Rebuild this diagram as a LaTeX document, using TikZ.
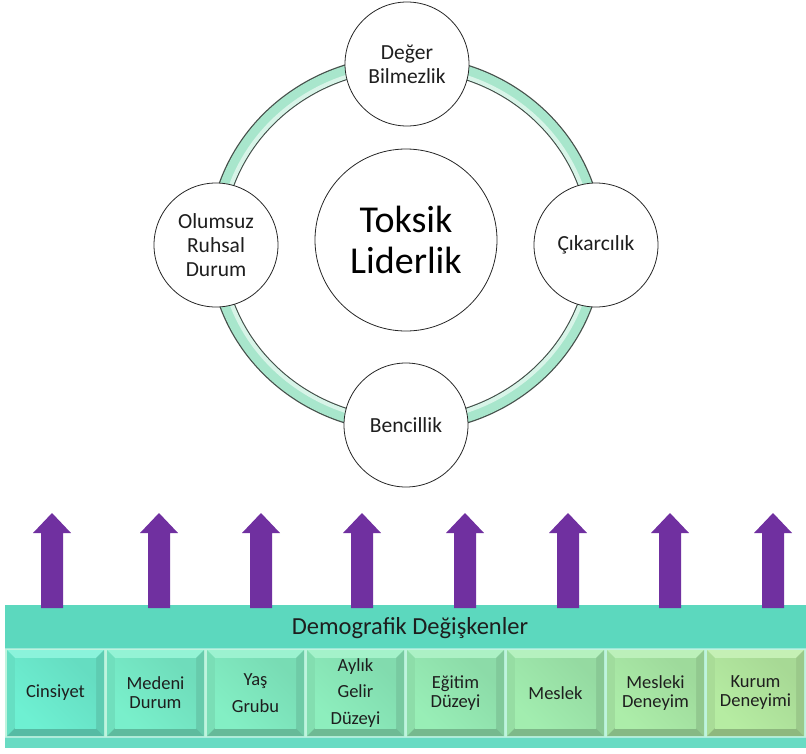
\documentclass[tikz,border=0pt]{standalone}
\usepackage{fontspec}
\setmainfont{Carlito}
\usetikzlibrary{calc}

\definecolor{ringfill}{RGB}{168,230,204}
\definecolor{ringedge}{RGB}{70,80,75}
\definecolor{liftpurple}{RGB}{112,48,160}
\definecolor{bandteal}{RGB}{92,216,190}
\definecolor{bandpale}{RGB}{190,244,222}
\definecolor{txtdark}{RGB}{30,30,30}
\definecolor{cstart}{RGB}{110,240,210}
\definecolor{cend}{RGB}{182,236,162}

\tikzset{
  bubble/.style={circle, draw=black!85, line width=0.8pt, fill=white,
    minimum size=124pt, inner sep=0pt, align=center, text=txtdark,
    font=\fontsize{21.5}{24}\selectfont},
  hub/.style={bubble, minimum size=182pt, font=\fontsize{38}{41}\selectfont, text=black},
  liftarrow/.style={fill=liftpurple},
  boxlabel/.style={align=center, text=txtdark, font=\fontsize{18.5}{19}\selectfont},
  widelabel/.style={boxlabel, font=\fontsize{18.5}{26.5}\selectfont},
  bandlabel/.style={text=txtdark, font=\fontsize{24.5}{27}\selectfont}
}

\begin{document}
\begin{tikzpicture}[x=1pt,y=-1pt]
\useasboundingbox (0,0) rectangle (806,753);

% ---- ring joining the four factors ----
\draw[line width=15.5pt, ringedge] (406,244) ellipse [x radius=190, y radius=181];
\draw[line width=13pt, ringfill] (406,244) ellipse [x radius=190, y radius=181];
\draw[line width=4pt, ringfill!45!white] (406,244) ellipse [x radius=185.5, y radius=176.5];

% ---- factor bubbles ----
\node[hub] (core) at (406,240) {Toksik\\Liderlik};
\node[bubble] (deger) at (407,64) {Değer\\Bilmezlik};
\node[bubble] (cikar) at (596,245) {Çıkarcılık};
\node[bubble] (bencil) at (406,425) {Bencillik};
\node[bubble] (ruhsal) at (216,245) {Olumsuz\\Ruhsal\\Durum};

% ---- demographic band ----
\fill[bandpale] (5,646) rectangle (806,740);
\fill[bandteal] (5,605) rectangle (806,648);
\draw[bandteal!60!white, line width=1pt] (5,648) -- (806,648);
\fill[bandteal!92!white] (5,737) rectangle (806,748);
\draw[bandteal!50!white, line width=1pt] (5,737) -- (806,737);
\node[bandlabel] (bandtitle) at (410,628) {Demografik Değişkenler};

% ---- bevelled variable boxes ----
\foreach \i/\lbl/\sty in {
    0/Cinsiyet/boxlabel,
    1/Medeni\\Durum/boxlabel,
    2/Yaş\\Grubu/widelabel,
    3/Aylık\\Gelir\\Düzeyi/widelabel,
    4/Eğitim\\Düzeyi/boxlabel,
    5/Meslek/boxlabel,
    6/Mesleki\\Deneyim/boxlabel,
    7/Kurum\\Deneyimi/boxlabel} {
  \pgfmathsetmacro{\xa}{7+\i*100}
  \pgfmathsetmacro{\xb}{\xa+97}
  \pgfmathtruncatemacro{\mix}{100-\i*100/7}
  \colorlet{face}{cstart!\mix!cend}
  \def\ya{650}\def\yb{736}\def\d{8}
  % face
  \fill[face] (\xa,\ya) rectangle (\xb,\yb);
  % top bevel
  \fill[face!80!white] (\xa,\ya) -- (\xb,\ya) -- (\xb-\d,\ya+\d) -- (\xa+\d,\ya+\d) -- cycle;
  % left bevel
  \fill[face!93!black] (\xa,\ya) -- (\xa+\d,\ya+\d) -- (\xa+\d,\yb-\d) -- (\xa,\yb) -- cycle;
  % right bevel
  \fill[face!85!black] (\xb,\ya) -- (\xb,\yb) -- (\xb-\d,\yb-\d) -- (\xb-\d,\ya+\d) -- cycle;
  % bottom bevel
  \fill[face!78!black] (\xa,\yb) -- (\xb,\yb) -- (\xb-\d,\yb-\d) -- (\xa+\d,\yb-\d) -- cycle;
  % inner face with a soft top-left shade
  \shade[top color=face!92!black, bottom color=face, shading angle=-45]
    (\xa+\d,\ya+\d) rectangle (\xb-\d,\yb-\d);
  \node[\sty] (box\i) at ({(\xa+\xb)/2},693) {\lbl};
}

% ---- upward arrows ----
\foreach \cx [count=\k] in {52,159,261,362,465,568,670,773} {
  \coordinate (foot\k) at (\cx,608);
  \coordinate (tip\k) at (\cx,513);
  \fill[liftarrow] ($(foot\k)+(-11,0)$) -- ($(tip\k)+(-11,20)$) -- ($(tip\k)+(-19,20)$)
    -- (tip\k) -- ($(tip\k)+(19,20)$) -- ($(tip\k)+(11,20)$) -- ($(foot\k)+(11,0)$) -- cycle;
}
\end{tikzpicture}
\end{document}
